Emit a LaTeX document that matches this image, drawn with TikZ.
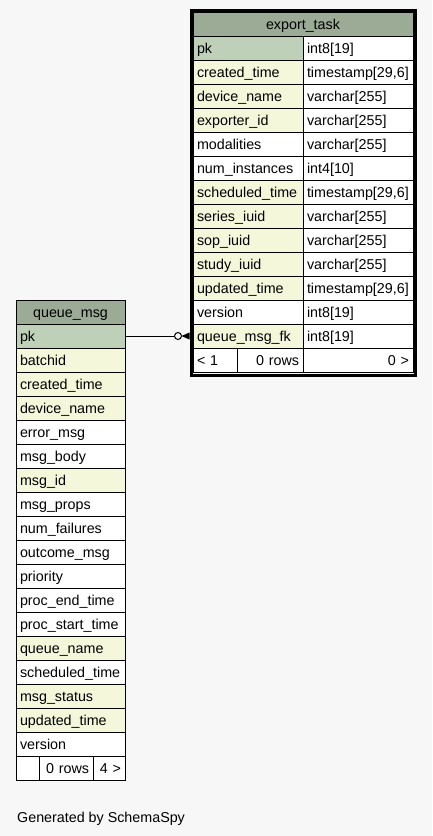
\documentclass[tikz,border=0pt]{standalone}
\usepackage{fontspec}
\setmainfont{Liberation Sans}
\usepackage{xcolor}
\usetikzlibrary{positioning}

\definecolor{headgreen}{HTML}{9BAB96}
\definecolor{keygreen}{HTML}{BED1B8}
\definecolor{idxyellow}{HTML}{F4F7DA}
\definecolor{pagegray}{HTML}{F7F7F7}

\begin{document}
\begin{tikzpicture}[
        x=1pt, y=-1pt,
        font=\fontsize{14.3}{16}\selectfont,
        cell/.style={draw, line width=1pt, minimum height=24pt, inner ysep=0pt,
            inner xsep=4pt, text height=13pt, text depth=3pt, align=left},
        tablehead/.style={cell, fill=headgreen, align=center},
        footcell/.style={cell, fill=white, align=right}
      ]
      \fill[pagegray] (0,0) rectangle (432,836);

      \node[tablehead, text width=212pt] (et-head) at (303,24) {export\_task};
      \foreach \fname/\ftype/\fcol [count=\i] in {
          pk/int8[19]/keygreen,
          created\_time/{timestamp[29,6]}/idxyellow,
          device\_name/varchar[255]/idxyellow,
          exporter\_id/varchar[255]/idxyellow,
          modalities/varchar[255]/white,
          num\_instances/int4[10]/white,
          scheduled\_time/{timestamp[29,6]}/idxyellow,
          series\_iuid/varchar[255]/idxyellow,
          sop\_iuid/varchar[255]/idxyellow,
          study\_iuid/varchar[255]/idxyellow,
          updated\_time/{timestamp[29,6]}/idxyellow,
          version/int8[19]/white,
          queue\_msg\_fk/int8[19]/idxyellow} {
          \node[cell, fill=\fcol, text width=102pt] (et-\i) at (248,24+24*\i) {\fname};
          \node[cell, fill=white, text width=102pt] (et-\i-type) at (358,24+24*\i) {\ftype};
        }
      \node[footcell, text width=36pt, align=left] (et-foot-a) at (215,360) {< 1};
      \node[footcell, text width=58pt] (et-foot-b) at (270,360) {0 rows};
      \node[footcell, text width=102pt] (et-foot-c) at (358,360) {0 >};
      \draw[line width=3pt] ([xshift=-1.5pt,yshift=1pt]et-head.north west)
        rectangle ([xshift=1.5pt,yshift=-2.5pt]et-foot-c.south east);

      \node[tablehead, text width=101pt] (qm-head) at (70.5,312) {queue\_msg};
      \foreach \fname/\fcol [count=\i] in {
          pk/keygreen, batchid/idxyellow, created\_time/idxyellow,
          device\_name/idxyellow, error\_msg/white, msg\_body/white,
          msg\_id/idxyellow, msg\_props/white, num\_failures/white,
          outcome\_msg/white, priority/white, proc\_end\_time/white,
          proc\_start\_time/white, queue\_name/idxyellow, scheduled\_time/white,
          msg\_status/idxyellow, updated\_time/idxyellow, version/white} {
          \node[cell, fill=\fcol, text width=101pt] (qm-\i) at (70.5,312+24*\i) {\fname};
        }
      \node[footcell, text width=15pt] (qm-foot-a) at (27.5,768) {};
      \node[footcell, text width=46pt] (qm-foot-b) at (66,768) {0 rows};
      \node[footcell, text width=24pt] (qm-foot-c) at (109,768) {4 >};

      \coordinate (fk-end) at ([xshift=-3pt]et-13.west);
      \draw[line width=1pt] (qm-1.east) -- ([xshift=-18pt]et-13.west);
      \draw[line width=1pt] ([xshift=-14.5pt]et-13.west) circle (3.5pt);
      \fill ([xshift=-11pt]et-13.west) -- ([yshift=3.5pt]fk-end) -- ([yshift=-3.5pt]fk-end) -- cycle;

      \node[anchor=base west, inner sep=0pt] (credit) at (17,822) {Generated by SchemaSpy};
    \end{tikzpicture}
\end{document}
